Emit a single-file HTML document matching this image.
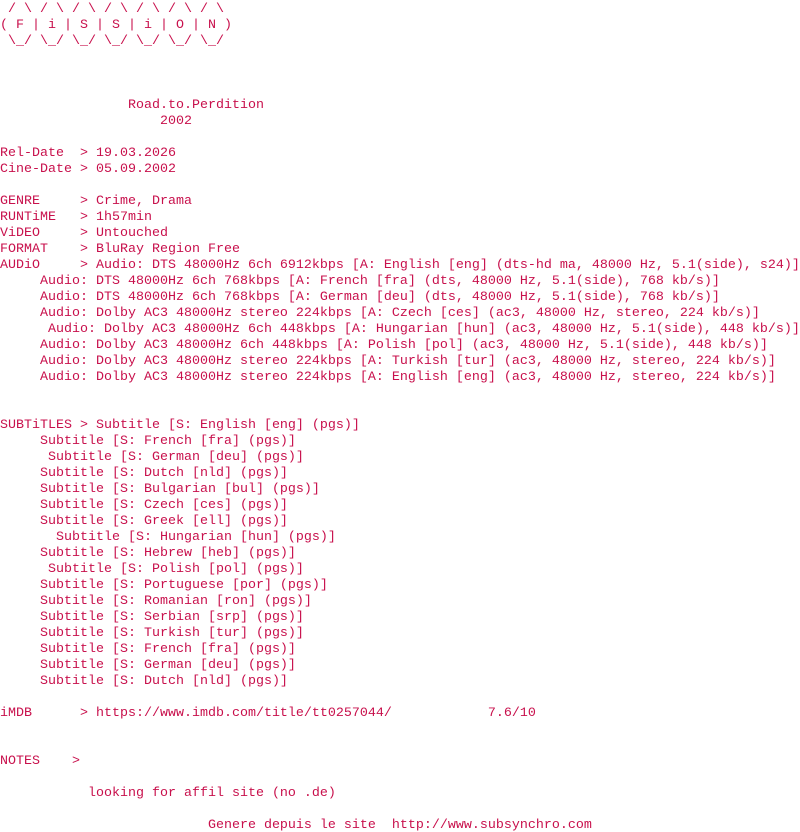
<!DOCTYPE html>
<html><head><meta charset="utf-8"><style>
html,body{margin:0;padding:0;background:#fff;width:800px;height:832px;overflow:hidden}
pre{margin:0;padding-top:2px;font-family:"Liberation Mono",monospace;font-size:13.33px;line-height:16px;color:#c8104c;white-space:pre}
</style></head><body><pre> / \ / \ / \ / \ / \ / \ / \
( F | i | S | S | i | O | N )
 \_/ \_/ \_/ \_/ \_/ \_/ \_/



                Road.to.Perdition
                    2002

Rel-Date  > 19.03.2026
Cine-Date > 05.09.2002

GENRE     > Crime, Drama
RUNTiME   > 1h57min
ViDEO     > Untouched
FORMAT    > BluRay Region Free
AUDiO     > Audio: DTS 48000Hz 6ch 6912kbps [A: English [eng] (dts-hd ma, 48000 Hz, 5.1(side), s24)]
     Audio: DTS 48000Hz 6ch 768kbps [A: French [fra] (dts, 48000 Hz, 5.1(side), 768 kb/s)]
     Audio: DTS 48000Hz 6ch 768kbps [A: German [deu] (dts, 48000 Hz, 5.1(side), 768 kb/s)]
     Audio: Dolby AC3 48000Hz stereo 224kbps [A: Czech [ces] (ac3, 48000 Hz, stereo, 224 kb/s)]
      Audio: Dolby AC3 48000Hz 6ch 448kbps [A: Hungarian [hun] (ac3, 48000 Hz, 5.1(side), 448 kb/s)]
     Audio: Dolby AC3 48000Hz 6ch 448kbps [A: Polish [pol] (ac3, 48000 Hz, 5.1(side), 448 kb/s)]
     Audio: Dolby AC3 48000Hz stereo 224kbps [A: Turkish [tur] (ac3, 48000 Hz, stereo, 224 kb/s)]
     Audio: Dolby AC3 48000Hz stereo 224kbps [A: English [eng] (ac3, 48000 Hz, stereo, 224 kb/s)]


SUBTiTLES > Subtitle [S: English [eng] (pgs)]
     Subtitle [S: French [fra] (pgs)]
      Subtitle [S: German [deu] (pgs)]
     Subtitle [S: Dutch [nld] (pgs)]
     Subtitle [S: Bulgarian [bul] (pgs)]
     Subtitle [S: Czech [ces] (pgs)]
     Subtitle [S: Greek [ell] (pgs)]
       Subtitle [S: Hungarian [hun] (pgs)]
     Subtitle [S: Hebrew [heb] (pgs)]
      Subtitle [S: Polish [pol] (pgs)]
     Subtitle [S: Portuguese [por] (pgs)]
     Subtitle [S: Romanian [ron] (pgs)]
     Subtitle [S: Serbian [srp] (pgs)]
     Subtitle [S: Turkish [tur] (pgs)]
     Subtitle [S: French [fra] (pgs)]
     Subtitle [S: German [deu] (pgs)]
     Subtitle [S: Dutch [nld] (pgs)]

iMDB      > https://www.imdb.com/title/tt0257044/            7.6/10


NOTES    >

           looking for affil site (no .de)

                          Genere depuis le site  http://www.subsynchro.com</pre></body></html>
